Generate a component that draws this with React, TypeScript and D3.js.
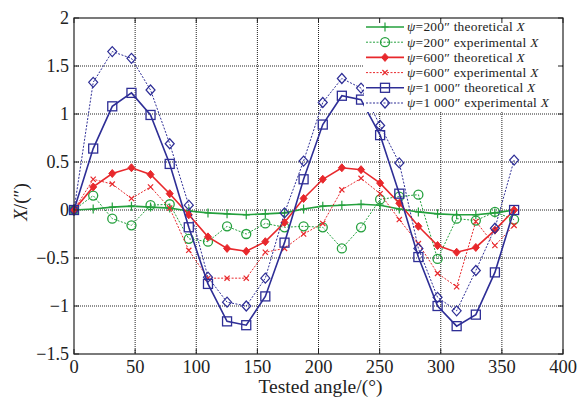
import React from 'react';
import * as d3 from 'd3';

// tested angles (deg)
const angles = [0, 15.7, 31.3, 47, 62.6, 78.3, 93.9, 109.6, 125.2, 140.9, 156.5, 172.2, 187.8, 203.5, 219.1, 234.8, 250.4, 266.1, 281.7, 297.4, 313, 328.7, 344.3, 360];

const green200Theo = [0, 0.01, 0.03, 0.04, 0.03, 0.02, -0.01, -0.03, -0.04, -0.05, -0.04, -0.03, 0.01, 0.04, 0.05, 0.06, 0.05, 0.01, -0.02, -0.04, -0.05, -0.05, -0.03, 0];
const green200Exp = [0, 0.15, -0.09, -0.16, 0.05, 0.06, -0.30, -0.33, -0.17, -0.25, -0.14, -0.18, -0.17, -0.18, -0.40, -0.18, 0.11, 0.14, 0.16, -0.51, -0.09, -0.11, -0.02, -0.10];
const red600Theo = [0, 0.24, 0.38, 0.44, 0.37, 0.17, -0.05, -0.28, -0.40, -0.43, -0.33, -0.13, 0.12, 0.32, 0.44, 0.42, 0.28, 0.07, -0.17, -0.37, -0.44, -0.39, -0.21, 0];
const red600Exp = [0, 0.32, 0.27, 0.12, 0.24, 0.02, -0.42, -0.71, -0.71, -0.71, -0.44, -0.40, -0.25, -0.14, 0.21, 0.33, 0.17, -0.10, -0.35, -0.66, -0.80, -0.12, -0.37, -0.16];
const blue1000Theo = [0, 0.64, 1.08, 1.22, 0.99, 0.48, -0.18, -0.77, -1.16, -1.20, -0.90, -0.34, 0.32, 0.89, 1.19, 1.15, 0.78, 0.17, -0.49, -1.0, -1.21, -1.09, -0.65, 0];
const blue1000Exp = [0, 1.33, 1.65, 1.58, 1.25, 0.69, 0.05, -0.70, -0.96, -1.0, -0.71, -0.03, 0.51, 1.12, 1.37, 1.27, 0.88, 0.49, -0.40, -0.91, -1.05, -0.63, -0.19, 0.52];

const xTicks = [0, 50, 100, 150, 200, 250, 300, 350, 400];
const yTicks = [-1.5, -1, -0.5, 0, 0.5, 1, 1.5, 2];
const yTickLabels = ['\u22121.5', '\u22121', '\u22120.5', '0', '0.5', '1', '1.5', '2'];

const GREEN = '#24a03d';
const RED = '#e8282c';
const BLUE = '#2e2e96';

type Marker = 'plus' | 'circle' | 'star' | 'x' | 'square' | 'diamond';

const series = [
  { psi: '200', kind: 'theoretical', values: green200Theo, color: GREEN, dashed: false, marker: 'plus' as Marker },
  { psi: '200', kind: 'experimental', values: green200Exp, color: GREEN, dashed: true, marker: 'circle' as Marker },
  { psi: '600', kind: 'theoretical', values: red600Theo, color: RED, dashed: false, marker: 'star' as Marker },
  { psi: '600', kind: 'experimental', values: red600Exp, color: RED, dashed: true, marker: 'x' as Marker },
  { psi: '1 000', kind: 'theoretical', values: blue1000Theo, color: BLUE, dashed: false, marker: 'square' as Marker },
  { psi: '1 000', kind: 'experimental', values: blue1000Exp, color: BLUE, dashed: true, marker: 'diamond' as Marker },
];

const FONT = '"Liberation Serif", "Times New Roman", serif';

const MarkerShape = ({ type, x, y, color }: { type: Marker; x: number; y: number; color: string }) => {
  switch (type) {
    case 'plus':
      return <path d={`M${x - 3.5},${y}H${x + 3.5}M${x},${y - 4.5}V${y + 4.5}`} stroke={color} strokeWidth={1.2} />;
    case 'circle':
      return <circle cx={x} cy={y} r={4.5} fill="none" stroke={color} strokeWidth={1.3} />;
    case 'star':
      return <path d={`M${x},${y - 4}L${x + 3.5},${y}L${x},${y + 4}L${x - 3.5},${y}Z`} fill={color} stroke={color} strokeWidth={1} />;
    case 'x':
      return <path d={`M${x - 2.6},${y - 2.6}L${x + 2.6},${y + 2.6}M${x - 2.6},${y + 2.6}L${x + 2.6},${y - 2.6}`} stroke={color} strokeWidth={1.2} />;
    case 'square':
      return <rect x={x - 4.5} y={y - 4.5} width={9} height={9} fill="none" stroke={color} strokeWidth={1.3} />;
    case 'diamond':
      return <path d={`M${x},${y - 5}L${x + 4.5},${y}L${x},${y + 5}L${x - 4.5},${y}Z`} fill="none" stroke={color} strokeWidth={1.2} />;
  }
  return null;
};

export default function App() {
  const width = 583;
  const height = 398;
  const left = 74, right = 563, top = 18, bottom = 354;

  const x = d3.scaleLinear().domain([0, 400]).range([left, right]);
  const y = d3.scaleLinear().domain([-1.5, 2]).range([bottom, top]);

  const line = d3.line<number>()
    .x((_, i) => x(angles[i]))
    .y(d => y(d));

  const legX = 366, legY = 27, legStep = 15.2;

  return (
    <svg width={width} height={height} style={{ position: 'absolute', left: 0, top: 0, background: '#fff' }} fontFamily={FONT}>
      <rect x={0} y={0} width={width} height={height} fill="#fff" />
      {/* grid */}
      <g stroke="#222" strokeWidth={1} strokeDasharray="1 1">
        {xTicks.slice(1, -1).map(t => (
          <line key={'gx' + t} x1={x(t)} x2={x(t)} y1={top} y2={bottom} />
        ))}
        {yTicks.slice(1, -1).map(t => (
          <line key={'gy' + t} x1={left} x2={right} y1={y(t)} y2={y(t)} />
        ))}
      </g>

      {/* series */}
      {series.map((s, si) => (
        <g key={si}>
          <path d={line(s.values) || ''} fill="none" stroke={s.color}
            strokeWidth={s.dashed ? 1 : 1.6} strokeDasharray={s.dashed ? '2 1.5' : undefined} />
          {s.values.map((v, i) => (
            <MarkerShape key={i} type={s.marker} x={x(angles[i])} y={y(v)} color={s.color} />
          ))}
        </g>
      ))}

      {/* legend */}
      <rect x={364} y={top + 1} width={right - 365} height={93} fill="#fff" />
      {series.map((s, i) => {
        const ly = legY + i * legStep;
        return (
          <g key={'leg' + i}>
            <line x1={legX} x2={legX + 38} y1={ly} y2={ly} stroke={s.color}
              strokeWidth={s.dashed ? 1 : 1.6} strokeDasharray={s.dashed ? '2 1.5' : undefined} />
            <MarkerShape type={s.marker} x={legX + 19} y={ly} color={s.color} />
            <text x={legX + 41} y={ly + 4.3} fontSize={13.4} letterSpacing={0.25} fill="#222">
              <tspan fontStyle="italic">ψ</tspan>
              {`=${s.psi}″ ${s.kind} `}
              <tspan fontStyle="italic">X</tspan>
            </text>
          </g>
        );
      })}

      {/* frame */}
      <rect x={left} y={top} width={right - left} height={bottom - top} fill="none" stroke="#222" strokeWidth={1.2} />
      {/* ticks */}
      <g stroke="#222" strokeWidth={1}>
        {xTicks.map(t => (
          <g key={'tx' + t}>
            <line x1={x(t)} x2={x(t)} y1={bottom} y2={bottom - 5} />
            <line x1={x(t)} x2={x(t)} y1={top} y2={top + 5} />
          </g>
        ))}
        {yTicks.map(t => (
          <g key={'ty' + t}>
            <line x1={left} x2={left + 5} y1={y(t)} y2={y(t)} />
            <line x1={right} x2={right - 5} y1={y(t)} y2={y(t)} />
          </g>
        ))}
      </g>

      {/* tick labels */}
      {xTicks.map(t => (
        <text key={'lx' + t} x={x(t)} y={bottom + 19} fontSize={18.5} textAnchor="middle" fill="#222">{t}</text>
      ))}
      {yTicks.map((t, i) => (
        <text key={'ly' + t} x={left - 5} y={y(t) + 6} fontSize={18} textAnchor="end" fill="#222">{yTickLabels[i]}</text>
      ))}

      {/* axis titles */}
      <text x={(left + right) / 2 + 2} y={393} fontSize={19.5} textAnchor="middle" fill="#222">Tested angle/(°)</text>
      <text transform={`translate(27,${(top + bottom) / 2 + 16}) rotate(-90)`} fontSize={19} textAnchor="middle" fill="#222">
        <tspan fontStyle="italic">X</tspan>/(″)
      </text>
    </svg>
  );
}
